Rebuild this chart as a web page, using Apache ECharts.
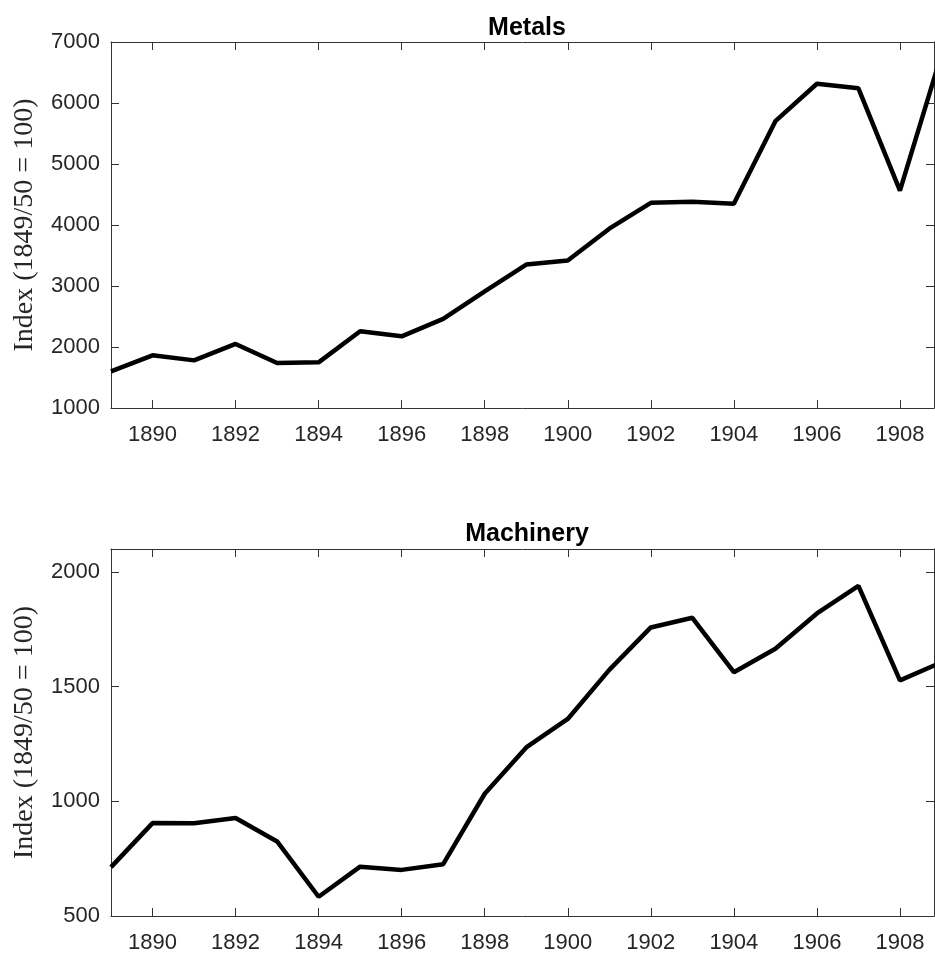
<!DOCTYPE html>
<html>
<head>
<meta charset="utf-8">
<script src="https://cdn.jsdelivr.net/npm/echarts@6/dist/echarts.min.js"></script>
<style>
  html, body { margin: 0; padding: 0; background: #fff; }
  #main { width: 935px; height: 956px; }
</style>
</head>
<body>
<div id="main"></div>
<script>
// values
var years = [1889, 1890, 1891, 1892, 1893, 1894, 1895, 1896, 1897, 1898, 1899,
             1900, 1901, 1902, 1903, 1904, 1905, 1906, 1907, 1908, 1909];
var metals = [1600, 1863, 1781, 2050, 1738, 1748, 2257, 2175, 2460, 2913, 3351,
              3417, 3940, 4363, 4380, 4347, 5702, 6316, 6240, 4565, 6800];
var machinery = [713, 905, 904, 927, 825, 584, 715, 701, 726, 1033, 1235,
                 1359, 1573, 1758, 1800, 1563, 1665, 1819, 1939, 1527, 1606];
var xTicks = [1890, 1892, 1894, 1896, 1898, 1900, 1902, 1904, 1906, 1908];
var metalsTicks = [1000, 2000, 3000, 4000, 5000, 6000, 7000];
var machineryTicks = [500, 1000, 1500, 2000];
var titles = ['Metals', 'Machinery'];
var yName = 'Index (1849/50 = 100)';

var axisCol = '#333333';
var textCol = '#262626';
var xMin = 1889, xMax = 1908.82;

function pairs(ys) {
    var out = [];
    for (var i = 0; i < years.length; i++) out.push([years[i], ys[i]]);
    return out;
}

function plain(v) { return String(v); }

function xAx(grid, pos, labels) {
    return {
        type: 'value', gridIndex: grid, position: pos,
        min: xMin, max: xMax,
        splitLine: {show: false},
        axisLine: {show: true, onZero: false, lineStyle: {color: axisCol, width: 1}},
        axisTick: {show: true, inside: true, length: 8, customValues: xTicks,
                   lineStyle: {color: axisCol, width: 1}},
        axisLabel: {show: labels, customValues: xTicks, margin: 16, formatter: plain,
                    color: textCol, fontSize: 22, fontFamily: 'Liberation Sans'}
    };
}

function yAx(grid, pos, mn, mx, ticks, labels) {
    var ax = {
        type: 'value', gridIndex: grid, position: pos,
        min: mn, max: mx,
        splitLine: {show: false},
        axisLine: {show: true, onZero: false, lineStyle: {color: axisCol, width: 1}},
        axisTick: {show: true, inside: true, length: 8, customValues: ticks,
                   lineStyle: {color: axisCol, width: 1}},
        axisLabel: {show: labels, customValues: ticks, margin: 11, formatter: plain,
                    color: textCol, fontSize: 22, fontFamily: 'Liberation Sans'}
    };
    if (labels) {
        ax.name = yName;
        ax.nameLocation = 'middle';
        ax.nameGap = 72;
        ax.nameTextStyle = {color: textCol, fontSize: 28, fontFamily: 'Liberation Serif'};
    }
    return ax;
}

var chart = echarts.init(document.getElementById('main'));
var option = {
    animation: false,
    backgroundColor: '#fff',
    title: [
        {text: titles[0], left: 522, top: 11, textAlign: 'center',
         textStyle: {fontSize: 25, fontWeight: 'bold', color: '#000', fontFamily: 'Liberation Sans'}},
        {text: titles[1], left: 522, top: 517, textAlign: 'center',
         textStyle: {fontSize: 25, fontWeight: 'bold', color: '#000', fontFamily: 'Liberation Sans'}}
    ],
    grid: [
        {left: 111, right: 1, top: 42, bottom: 548},
        {left: 111, right: 1, top: 549, bottom: 40}
    ],
    xAxis: [
        xAx(0, 'bottom', true), xAx(0, 'top', false),
        xAx(1, 'bottom', true), xAx(1, 'top', false)
    ],
    yAxis: [
        yAx(0, 'left', 1000, 7000, metalsTicks, true), yAx(0, 'right', 1000, 7000, metalsTicks, false),
        yAx(1, 'left', 500, 2100, machineryTicks, true), yAx(1, 'right', 500, 2100, machineryTicks, false)
    ],
    series: [
        {type: 'line', xAxisIndex: 0, yAxisIndex: 0, data: pairs(metals),
         symbol: 'none', clip: true, lineStyle: {color: '#000', width: 4.5}},
        {type: 'line', xAxisIndex: 2, yAxisIndex: 2, data: pairs(machinery),
         symbol: 'none', clip: true, lineStyle: {color: '#000', width: 4.5}}
    ]
};
chart.setOption(option);
</script>
</body>
</html>
